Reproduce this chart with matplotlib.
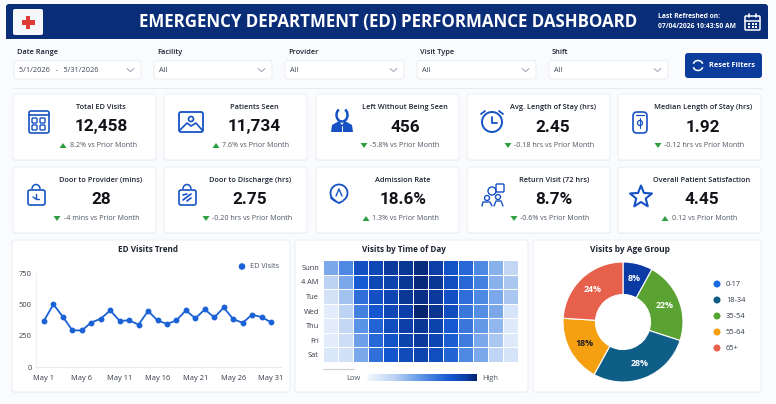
import matplotlib
matplotlib.use("Agg")
import matplotlib.pyplot as plt
from matplotlib.patches import FancyBboxPatch, Rectangle, Circle, Polygon, Arc
from matplotlib.colors import LinearSegmentedColormap
import numpy as np

# data
kpi_titles = ["Total ED Visits", "Patients Seen", "Left Without Being Seen", "Avg. Length of Stay (hrs)",
              "Median Length of Stay (hrs)", "Door to Provider (mins)", "Door to Discharge (hrs)",
              "Admission Rate", "Return Visit (72 hrs)", "Overall Patient Satisfaction"]
kpi_values = ["12,458", "11,734", "456", "2.45", "1.92", "28", "2.75", "18.6%", "8.7%", "4.45"]
kpi_deltas = ["8.2%", "7.6%", "-5.8%", "-0.18 hrs", "-0.12 hrs", "-4 mins", "-0.20 hrs", "1.3%", "-0.6%", "0.12"]
kpi_up = [True, True, False, False, False, False, False, True, False, True]

trend_labels = ["May 1", "May 6", "May 11", "May 16", "May 21", "May 26", "May 31"]
trend_values = [370, 500, 400, 292, 292, 355, 385, 452, 368, 372, 338, 447, 372,
                343, 372, 452, 388, 460, 395, 475, 382, 352, 418, 398, 357]

heat_rows = ["Sunn", "4 AM", "Tue", "Wed", "Thu", "Fri", "Sat"]
heat_values = [
    [.42, .55, .80, .85, .92, .93, .97, .90, .78, .68, .55, .38, .22],
    [.25, .42, .74, .85, .88, .93, .98, .93, .82, .68, .58, .38, .30],
    [.15, .32, .66, .80, .86, .93, .96, .92, .80, .66, .55, .42, .30],
    [.08, .25, .58, .76, .85, .90, 1.0, .94, .82, .62, .52, .42, .14],
    [.08, .22, .50, .70, .82, .90, .93, .88, .75, .62, .48, .36, .10],
    [.08, .18, .45, .68, .78, .88, .92, .86, .72, .60, .42, .30, .10],
    [.12, .16, .42, .65, .76, .83, .87, .82, .70, .55, .42, .24, .14],
]

age_labels = ["0-17", "18-34", "35-54", "55-64", "65+"]
age_shares = [8, 28, 22, 18, 24]

filter_labels = ["Date Range", "Facility", "Provider", "Visit Type", "Shift"]
filter_values = ["5/1/2026   -   5/31/2026", "All", "All", "All", "All"]

# layout, in reference pixels
W, H = 776, 404
BLUE = "#1652c4"
NAVY = "#0a2d78"
INK = "#1d2433"
GREY = "#4b5563"
GREEN = "#2f9e3f"

plt.rcParams["font.family"] = ["Open Sans", "DejaVu Sans"]

fig = plt.figure(figsize=(W / 100, H / 100), dpi=100, facecolor="#fafbfd")
page = fig.add_axes([0, 0, 1, 1])
page.set_xlim(0, W)
page.set_ylim(H, 0)
page.axis("off")


def px_axes(x0, y0, x1, y1):
    return fig.add_axes([x0 / W, 1 - y1 / H, (x1 - x0) / W, (y1 - y0) / H])


def box(x0, y0, x1, y1, fc="white", ec="#eceff4", lw=0.8, r=3, z=2):
    page.add_patch(FancyBboxPatch((x0 + r, y0 + r), x1 - x0 - 2 * r, y1 - y0 - 2 * r,
                                  boxstyle=f"round,pad={r},rounding_size={r}",
                                  fc=fc, ec=ec, lw=lw, zorder=z))


def card(x0, y0, x1, y1):
    box(x0, y0 + 1, x1, y1 + 1, fc="#edf0f5", ec="none", z=1)
    box(x0, y0, x1, y1)


def line(xs, ys, lw=1.2, color=BLUE, z=4):
    page.plot(xs, ys, color=color, lw=lw, zorder=z, solid_capstyle="round")


def outline(x0, y0, x1, y1, r=2, lw=1.2):
    box(x0, y0, x1, y1, fc="none", ec=BLUE, lw=lw, r=r, z=4)


def ring(x, y, r, lw=1.2, color=BLUE):
    page.add_patch(Circle((x, y), r, fc="none", ec=color, lw=lw, zorder=4))


# icons
def icon_building(x, y):
    outline(x - 10, y - 11, x + 10, y + 11)
    line([x - 10, x + 10], [y - 7, y - 7])
    for dx in (-7, 1):
        for dy in (-4, 3):
            outline(x + dx, y + dy, x + dx + 5, y + dy + 5, r=1, lw=1)


def icon_picture(x, y):
    outline(x - 12, y - 10, x + 12, y + 10, lw=1.3)
    ring(x, y - 3, 2.5)
    line([x - 11, x - 4, x, x + 5, x + 11], [y + 8, y + 1, y + 4, y + 1, y + 8])


def icon_person(x, y):
    page.add_patch(Arc((x, y - 7), 11, 13, theta1=-60, theta2=240, color=BLUE, lw=1.8, zorder=4))
    page.add_patch(Polygon([[x - 11, y + 10], [x - 10, y + 3], [x - 3, y - 1], [x, y + 3],
                            [x + 3, y - 1], [x + 10, y + 3], [x + 11, y + 10]],
                           fc=BLUE, ec="none", zorder=4))
    line([x, x], [y + 4, y + 10], lw=0.7, color="white", z=5)


def icon_clock(x, y):
    ring(x, y, 10, lw=1.4)
    line([x, x, x + 5], [y - 5, y + 1, y + 1], lw=1.3)
    line([x - 11, x - 7], [y - 8, y - 11], lw=1.3)
    line([x + 11, x + 7], [y - 8, y - 11], lw=1.3)


def icon_tag(x, y):
    outline(x - 7, y - 10, x + 7, y + 11, r=4)
    line([x - 4, x + 4], [y - 7, y - 7], lw=0.9)
    ring(x, y + 1, 2.5, lw=0.9)
    line([x, x], [y - 4, y + 6], lw=0.8)


def icon_bag(x, y, inner):
    outline(x - 8, y - 5, x + 9, y + 10)
    page.add_patch(Arc((x, y - 6), 8, 9, theta1=180, theta2=360, color=BLUE, lw=1.1, zorder=4))
    if inner == "arrow":
        line([x, x, x + 3], [y - 1, y + 4, y + 4], lw=1)
        line([x - 3, x], [y + 2, y + 4], lw=1)
    else:
        line([x - 4, x + 4], [y + 5, y - 1], lw=1.2)
        line([x - 4, x], [y, y - 1], lw=1.2)
        line([x, x + 4], [y + 6, y + 3], lw=1.2)


def icon_pin(x, y):
    page.add_patch(Arc((x, y - 1), 17, 17, theta1=-250, theta2=60, color=BLUE, lw=1.3, zorder=4))
    line([x - 8, x - 4, x], [y + 4, y + 7, y + 9], lw=1.3)
    line([x + 4, x], [y + 7, y + 9], lw=1.3)
    line([x - 3, x, x + 3], [y + 2, y - 5, y + 2], lw=1)


def icon_people(x, y):
    ring(x - 6, y + 3, 2.5, lw=1)
    ring(x + 5, y + 2, 2.5, lw=1)
    ring(x - 1, y - 4, 4, lw=1)
    outline(x + 3, y - 11, x + 11, y - 3, r=1, lw=1)
    line([x - 11, x - 10, x - 3, x - 1], [y + 11, y + 7, y + 7, y + 11], lw=1)
    line([x + 1, x + 3, x + 8, x + 10], [y + 11, y + 6, y + 6, y + 11], lw=1)


def icon_star(x, y):
    angles = np.radians(np.arange(10) * 36 - 90)
    radii = np.where(np.arange(10) % 2 == 0, 11.5, 5)
    pts = np.column_stack([x + radii * np.cos(angles), y + radii * np.sin(angles)])
    page.add_patch(Polygon(pts, fc="none", ec=BLUE, lw=1.5, zorder=4, joinstyle="round"))


# header
box(6, 4, 768, 39, fc=NAVY, ec="none", r=3)
page.add_patch(Rectangle((6, 30), 762, 9, fc=NAVY, ec="none", zorder=2))
box(13, 9, 43, 35, fc="#f4f6fa", ec="none", r=2, z=3)
page.add_patch(Rectangle((21.5, 20), 13, 4.5, fc="#e03a36", zorder=4))
page.add_patch(Rectangle((25.7, 16), 4.5, 12.5, fc="#e03a36", zorder=4))
page.text(388, 22, "EMERGENCY DEPARTMENT (ED) PERFORMANCE DASHBOARD", color="white", fontsize=12.15,
          fontweight="bold", ha="center", va="center", zorder=4)
page.text(658, 17, "Last Refreshed on:", color="white", fontsize=4.9, fontweight="bold", va="center", zorder=4)
page.text(658, 27, "07/04/2026 10:43:50 AM", color="white", fontsize=4.9, fontweight="bold", va="center", zorder=4)
box(745, 16, 760, 30, fc="none", ec="white", lw=1.1, r=1, z=4)
line([745, 760], [20.5, 20.5], color="white", lw=1.1)
line([749, 749], [14, 17], color="white", lw=1.2)
line([756, 756], [14, 17], color="white", lw=1.2)
for gx in (749, 752.5, 756):
    for gy in (23.5, 27):
        page.add_patch(Rectangle((gx - 1, gy - 1), 2, 2, fc="white", zorder=4))

# filters
filter_x0 = [14, 154, 285, 417, 549]
filter_x1 = [141, 272, 404, 536, 668]
for i in range(len(filter_labels)):
    x0, x1 = filter_x0[i], filter_x1[i]
    page.text(x0 + 3, 52, filter_labels[i], fontsize=5.3, fontweight="semibold", color=INK, va="center")
    box(x0, 60.5, x1, 79)
    page.text(x0 + 5, 70, filter_values[i], fontsize=5.3, color="#3d4657", va="center", zorder=3)
    line([x1 - 14, x1 - 10.5, x1 - 7], [68.5, 71.5, 68.5], lw=0.7, color="#98a2b3")
box(685, 53, 762, 78, fc="#0c3c9b", ec="none", r=3)
page.add_patch(Arc((698, 65.5), 10, 10, theta1=20, theta2=160, color="white", lw=1.1, zorder=4))
page.add_patch(Arc((698, 65.5), 10, 10, theta1=200, theta2=340, color="white", lw=1.1, zorder=4))
page.text(709, 65.5, "Reset Filters", color="white", fontsize=5.3, fontweight="bold", va="center", zorder=4)
line([13, 762], [88, 88], color="#e6eaf1", lw=0.8, z=1)

# kpi cards
card_x0 = [13, 164, 316, 467, 618] * 2
card_top = [94] * 5 + [167] * 5
title_cx = [101, 254, 405, 553, 703, 101, 250, 403, 554, 702]
tri_x = [63, 216, 364, 508, 658, 57, 206, 366, 514, 665]
icon_x = [39, 191, 342, 492, 640, 36, 187, 339, 493, 641]
for i in range(10):
    x0, top = card_x0[i], card_top[i]
    card(x0, top, x0 + 143, top + 66)
    page.text(title_cx[i], top + 13.5, kpi_titles[i], fontsize=5.3, fontweight="semibold", color=INK,
              ha="center", va="center", zorder=4)
    page.text(title_cx[i], top + 33, kpi_values[i], fontsize=12.3, fontweight="bold", color="#111318",
              ha="center", va="center", zorder=4, family="Roboto")
    t = tri_x[i]
    dy = top + 51.5
    if kpi_up[i]:
        tri = [[t - 3.5, dy + 2.5], [t + 3.5, dy + 2.5], [t, dy - 2.5]]
    else:
        tri = [[t - 3.5, dy - 2.5], [t + 3.5, dy - 2.5], [t, dy + 2.5]]
    page.add_patch(Polygon(tri, fc=GREEN, ec="none", zorder=4))
    page.text(t + 6.5, dy, kpi_deltas[i] + " vs Prior Month", fontsize=5.15, color=GREY, va="center", zorder=4)

icon_building(icon_x[0], 122)
icon_picture(icon_x[1], 122)
icon_person(icon_x[2], 122)
icon_clock(icon_x[3], 122)
icon_tag(icon_x[4], 122)
icon_bag(icon_x[5], 195, "arrow")
icon_bag(icon_x[6], 195, "split")
icon_pin(icon_x[7], 194)
icon_people(icon_x[8], 195)
icon_star(icon_x[9], 197)

# bottom panels
card(12, 240, 290, 392)
card(295, 240, 528, 392)
card(533, 240, 761, 392)
page.text(148, 250, "ED Visits Trend", fontsize=5.9, fontweight="bold", color=INK, ha="center", va="center", zorder=4)
page.text(404, 250, "Visits by Time of Day", fontsize=5.9, fontweight="bold", color=INK, ha="center", va="center", zorder=4)
page.text(630, 250, "Visits by Age Group", fontsize=6.0, fontweight="bold", color=INK, ha="center", va="center", zorder=4)

# trend line
ax = px_axes(36, 273, 281, 367)
ax.patch.set_alpha(0)
days = np.arange(len(trend_values))
ax.plot(days, trend_values, color="#1a62d6", lw=1.3, marker="o", ms=3.2)
ax.set_xlim(-8 / 9.46, 24 + 10 / 9.46)
ax.set_ylim(0, 750)
ax.set_yticks([0, 250, 500, 750])
ax.set_xticks(days[::4], trend_labels)
ax.tick_params(labelsize=5.4, length=0, colors="#333a47", pad=6)
ax.tick_params(axis="y", pad=3)
for s in ["top", "right"]:
    ax.spines[s].set_visible(False)
ax.spines["left"].set_color("#eef0f4")
ax.spines["bottom"].set_color("#e6e9ee")
page.add_patch(Circle((242, 266.5), 3.3, fc="#1a62d6", ec="none", zorder=4))
page.text(249.5, 266.5, "ED Visits", fontsize=5.3, color=GREY, va="center", zorder=4)

# heatmap
cmap = LinearSegmentedColormap.from_list(
    "heat", [(0, "#f4f8fe"), (0.25, "#bcd3f3"), (0.5, "#5b94e6"), (0.75, "#1558d0"), (0.9, "#0b40a8"), (1, "#06246e")])
ax = px_axes(323, 260, 518, 362)
ax.patch.set_alpha(0)
ax.pcolormesh(np.array(heat_values), cmap=cmap, vmin=0, vmax=1, edgecolors="white", linewidth=0.7)
ax.invert_yaxis()
ax.set_xticks([])
ax.set_yticks(np.arange(len(heat_rows)) + 0.5, heat_rows)
ax.tick_params(labelsize=5.3, length=0, colors="#333a47", pad=3)
for s in ax.spines.values():
    s.set_visible(False)
line([323, 354], [369, 369], color="#c9ced6", lw=0.8)

cax = px_axes(367, 374, 477, 381)
cax.imshow(np.linspace(0, 1, 256)[None, :], cmap=cmap, aspect="auto")
cax.axis("off")
page.text(353.5, 378, "Low", fontsize=5.4, color=GREY, ha="center", va="center", zorder=4)
page.text(490, 378, "High", fontsize=5.4, color=GREY, ha="center", va="center", zorder=4)

# donut, clockwise from the top: 0-17, 35-54, 18-34, 55-64, 65+
ax = px_axes(558, 257, 688, 387)
ax.patch.set_alpha(0)
order = [0, 2, 1, 3, 4]
slice_colors = ["#0a3aa3", "#5aa332", "#0f5e88", "#f5a010", "#e7604c"]
text_colors = ["white", "white", "white", "#1d1d1d", "white"]
wedges, texts, autotexts = ax.pie([age_shares[i] for i in order], colors=slice_colors, startangle=90,
                                  counterclock=False, radius=60 / 65,
                                  wedgeprops={"width": 32.5 / 65, "edgecolor": "white", "linewidth": 0.8},
                                  autopct="%d%%", pctdistance=0.74,
                                  textprops={"fontsize": 6.4, "fontweight": "bold"})
for t, c in zip(autotexts, text_colors):
    t.set_color(c)
ax.set_xlim(-1, 1)
ax.set_ylim(-1, 1)

legend_colors = ["#1a6be0", "#0f5c85", "#55a630", "#f59f0b", "#e5604d"]
legend_y = [284, 300, 316, 332, 348]
for i in range(len(age_labels)):
    page.add_patch(Circle((717, legend_y[i]), 3.5, fc=legend_colors[i], ec="none", zorder=4))
    page.text(726, legend_y[i], age_labels[i], fontsize=5.4, color="#333a47", va="center", zorder=4)

fig.savefig("out.png", dpi=100, facecolor=fig.get_facecolor())
